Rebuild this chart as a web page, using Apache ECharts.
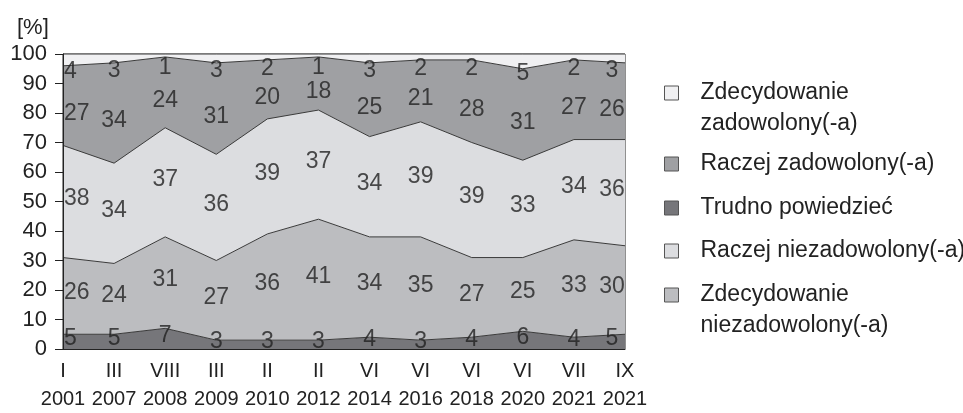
<!DOCTYPE html>
<html>
<head>
<meta charset="utf-8">
<script src="https://cdn.jsdelivr.net/npm/echarts@6/dist/echarts.min.js"></script>
<style>html,body{margin:0;padding:0;background:#fff}#c{width:963px;height:413px}</style>
</head>
<body>
<div id="c"></div>
<script>
// Survey dates
const months = ['I','III','VIII','III','II','II','VI','VI','VI','VI','VII','IX'];
const years = ['2001','2007','2008','2009','2010','2012','2014','2016','2018','2020','2021','2021'];
// Series values (stacked bottom to top)
const trudno       = [5, 5, 7, 3, 3, 3, 4, 3, 4, 6, 4, 5];
const zdecNiezad   = [26, 24, 31, 27, 36, 41, 34, 35, 27, 25, 33, 30];
const raczejNiezad = [38, 34, 37, 36, 39, 37, 34, 39, 39, 33, 34, 36];
const raczejZad    = [27, 34, 24, 31, 20, 18, 25, 21, 28, 31, 27, 26];
const zdecZad      = [4, 3, 1, 3, 2, 1, 3, 2, 2, 5, 2, 3];
const yTicks = [0,10,20,30,40,50,60,70,80,90,100];

const FONT = "'Liberation Sans', Arial, Helvetica, sans-serif";
const names = {
  zdecZad: 'Zdecydowanie\nzadowolony(-a)',
  raczejZad: 'Raczej zadowolony(-a)',
  trudno: 'Trudno powiedzieć',
  raczejNiezad: 'Raczej niezadowolony(-a)',
  zdecNiezad: 'Zdecydowanie\nniezadowolony(-a)'
};
const colors = {
  zdecZad: '#f0f0f2',
  raczejZad: '#9fa0a3',
  trudno: '#76767a',
  raczejNiezad: '#dcdde0',
  zdecNiezad: '#bcbdc0'
};
const stackOrder = ['trudno','zdecNiezad','raczejNiezad','raczejZad','zdecZad'];
const values = {trudno, zdecNiezad, raczejNiezad, raczejZad, zdecZad};
const labelShift = {trudno: 1, zdecNiezad: 1, raczejNiezad: 1, raczejZad: -2.7, zdecZad: -4};

const categories = months.map((m, i) => m + '\n' + years[i]);
const n = categories.length;

const series = [];
const base = new Array(n).fill(0);
stackOrder.forEach(key => {
  const vals = values[key];
  series.push({
    name: names[key],
    type: 'line',
    stack: 'all',
    data: vals,
    symbol: 'none',
    silent: true,
    lineStyle: {color: '#3a3a3a', width: 1},
    itemStyle: {color: colors[key]},
    areaStyle: {color: colors[key], opacity: 1},
    z: 2
  });
  const labelData = vals.map((v, i) => {
    const item = {value: [i, base[i] + v / 2 + labelShift[key], v]};
    if (i === 0) item.label = {align: 'left', offset: [1, 0]};
    if (i === n - 1) item.label = {align: 'center', offset: [-13, 0]};
    return item;
  });
  series.push({
    type: 'scatter',
    data: labelData,
    symbolSize: 1,
    itemStyle: {color: 'rgba(0,0,0,0)'},
    silent: true,
    z: 5,
    label: {
      show: true,
      position: 'inside',
      formatter: p => String(p.data.value[2]),
      fontSize: 23,
      color: '#222',
      fontFamily: FONT
    }
  });
  vals.forEach((v, i) => base[i] += v);
});

const legendIcon = [93, 164, 208, 251, 295];
const legendKeys = ['zdecZad','raczejZad','trudno','raczejNiezad','zdecNiezad'];
const LH = 31;
const legends = legendKeys.map((key, k) => {
  const twoLine = names[key].indexOf('\n') >= 0;
  return {
    left: 664,
    top: twoLine ? legendIcon[k] - LH * 1.5 : legendIcon[k] - LH / 2,
    padding: 0,
    orient: 'vertical',
    icon: 'rect',
    itemWidth: 14,
    itemHeight: 14,
    selectedMode: false,
    formatter: twoLine ? (name => ' \n' + name) : (name => name),
    data: [{
      name: names[key],
      itemStyle: {color: colors[key], borderColor: '#555', borderWidth: 1}
    }],
    textStyle: {
      fontSize: 23,
      color: '#222',
      lineHeight: LH,
      fontFamily: FONT,
      padding: [0, 0, 0, 17]
    }
  };
});

const chart = echarts.init(document.getElementById('c'), null, {renderer: 'canvas'});
chart.setOption({
  animation: false,
  backgroundColor: '#fff',
  title: {
    text: '[%]',
    left: 12, top: 12,
    textStyle: {fontSize: 22, fontWeight: 'normal', color: '#222', fontFamily: FONT}
  },
  legend: legends,
  grid: {left: 63, right: 338, top: 54, bottom: 61, show: true, borderColor: '#222', borderWidth: 1, backgroundColor: 'transparent'},
  xAxis: {
    type: 'category',
    data: categories,
    boundaryGap: false,
    axisLine: {lineStyle: {color: '#222', width: 1}},
    axisTick: {show: false},
    axisLabel: {
      interval: 0,
      fontSize: 20,
      lineHeight: 28,
      margin: 8,
      color: '#222',
      fontFamily: FONT
    },
    z: 10
  },
  yAxis: {
    type: 'value',
    min: yTicks[0], max: yTicks[yTicks.length - 1], interval: 10,
    axisLine: {show: true, lineStyle: {color: '#222', width: 1}},
    axisTick: {show: true, length: 8, lineStyle: {color: '#222'}},
    splitLine: {show: false},
    axisLabel: {fontSize: 22, margin: 16, color: '#222', fontFamily: FONT},
    z: 10
  },
  series: series
});
</script>
</body>
</html>
